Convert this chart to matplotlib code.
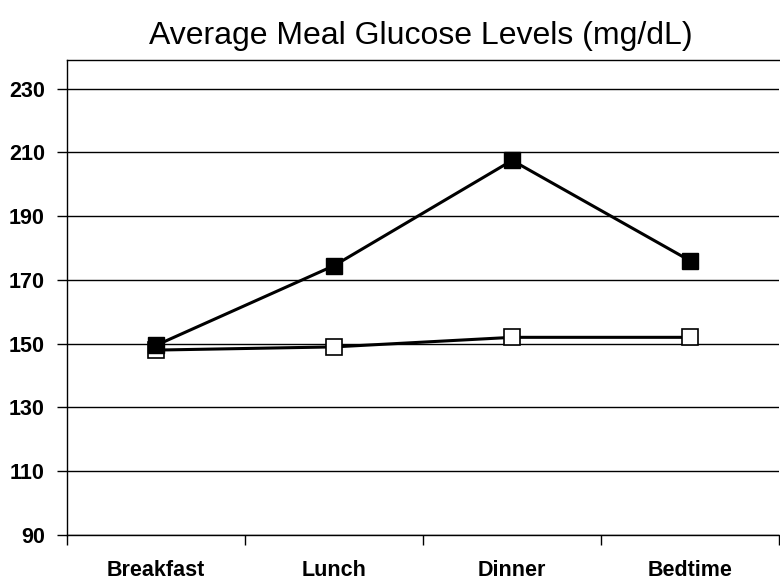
import matplotlib
matplotlib.use("Agg")
import matplotlib.pyplot as plt
import numpy as np

plt.rcParams['font.family'] = ['Liberation Sans', 'DejaVu Sans']

meals = ["Breakfast", "Lunch", "Dinner", "Bedtime"]
filled_vals = [149.5, 174.5, 207.5, 176]
open_vals = [148, 149, 152, 152]
yticks = [90, 110, 130, 150, 170, 190, 210, 230]

fig = plt.figure(figsize=(7.8, 5.8), dpi=100)
ax = fig.add_axes([0.086, 0.0776, 0.913, 0.819])

x = np.arange(len(meals))
ax.plot(x, open_vals, color="black", lw=2.2, marker="s", markersize=11,
        markerfacecolor="white", markeredgecolor="black", markeredgewidth=1.2, zorder=3)
ax.plot(x, filled_vals, color="black", lw=2.2, marker="s", markersize=11,
        markerfacecolor="black", markeredgecolor="black", zorder=4)

ax.set_xlim(-0.5, 3.5)
ax.set_ylim(90, 239)
ax.set_yticks(yticks)
ax.set_yticklabels([str(v) for v in yticks], fontsize=15.5, fontweight="bold")
ax.set_xticks(np.arange(-0.5, 3.6, 1))
ax.set_xticklabels([])
ax.set_xticks(x, minor=True)
ax.set_xticklabels(meals, minor=True, fontsize=15.5, fontweight="bold")
ax.tick_params(axis="x", which="minor", length=0, pad=18)
ax.tick_params(axis="x", which="major", length=7, width=1, direction="out")
ax.tick_params(axis="y", length=7, width=1, direction="out", pad=9)
ax.grid(axis="y", color="black", lw=1)
ax.set_axisbelow(True)
ax.spines["right"].set_visible(False)
for s in ["left", "bottom", "top"]:
    ax.spines[s].set_linewidth(1)

fig.suptitle("Average Meal Glucose Levels (mg/dL)", fontsize=23, x=0.54, y=0.963)

fig.savefig("out.png", dpi=100)
